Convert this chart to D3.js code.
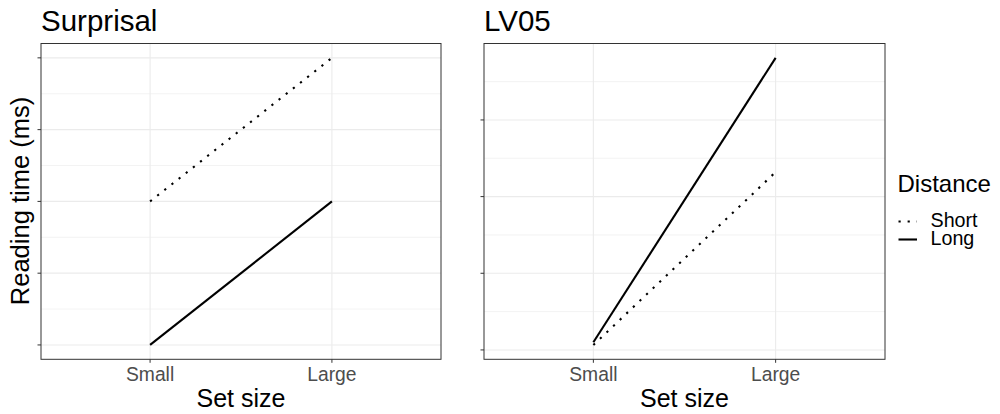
<!DOCTYPE html>
<html><head><meta charset="utf-8">
<script src="https://cdn.jsdelivr.net/npm/d3@7"></script>
<style>body{margin:0;background:#fff}svg{display:block}text{font-family:"Liberation Sans",Arial,sans-serif}</style>
</head><body>
<svg id="c" width="1000" height="414"></svg>
<script>
const categories = ["Small", "Large"];
const panelTitles = ["Surprisal", "LV05"];
const seriesNames = ["Short", "Long"];
// Surprisal panel values (arbitrary units; y tick labels hidden)
const surprisalShort = [2, 4];
const surprisalLong = [0, 2];
const surprisalTicks = [0, 1, 2, 3, 4];
// LV05 panel values
const lv05Short = [0.065, 2.32];
const lv05Long = [0.10, 3.81];
const lv05Ticks = [0, 1, 2, 3];

const panels = [
  {title: panelTitles[0], series: {Short: surprisalShort, Long: surprisalLong}, ticks: surprisalTicks, x0: 41, x1: 441},
  {title: panelTitles[1], series: {Short: lv05Short, Long: lv05Long}, ticks: lv05Ticks, x0: 484, x1: 885}
];
const panelTop = 43.5, panelBottom = 359.3;
const svg = d3.select("#c");
const dash = {Short: "2.2,6.9", Long: null};

panels.forEach((p, pi) => {
  const all = [].concat(p.series.Short, p.series.Long);
  const mn = d3.min(all), mx = d3.max(all), pad = (mx - mn) * 0.05;
  const y = d3.scaleLinear().domain([mn - pad, mx + pad]).range([panelBottom, panelTop]);
  // ggplot discrete expansion: positions at 0.6/2.2 and 1.6/2.2 of the panel width
  const xs = d3.scaleLinear().domain([0.4, 2.6]).range([p.x0, p.x1]);
  const xp = c => xs(categories.indexOf(c) + 1);
  const g = svg.append("g");
  // minor grid
  const minors = [];
  const step = p.ticks[1] - p.ticks[0];
  for (let i = 0; i <= p.ticks.length; i++) {
    const v = p.ticks[0] + (i - 0.5) * step;
    const dom = y.domain();
    if (v > dom[0] && v < dom[1]) minors.push(v);
  }
  g.selectAll(".minor").data(minors).join("line")
    .attr("x1", p.x0).attr("x2", p.x1).attr("y1", d => y(d)).attr("y2", d => y(d))
    .attr("stroke", "#EBEBEB").attr("stroke-width", 0.6);
  g.selectAll(".major").data(p.ticks).join("line")
    .attr("x1", p.x0).attr("x2", p.x1).attr("y1", d => y(d)).attr("y2", d => y(d))
    .attr("stroke", "#EBEBEB").attr("stroke-width", 1.1);
  g.selectAll(".vmajor").data(categories).join("line")
    .attr("x1", d => xp(d)).attr("x2", d => xp(d)).attr("y1", panelTop).attr("y2", panelBottom)
    .attr("stroke", "#EBEBEB").attr("stroke-width", 1.1);
  // lines
  const line = d3.line().x((d, i) => xp(categories[i])).y(d => y(d));
  seriesNames.forEach(s => {
    g.append("path").datum(p.series[s]).attr("d", line).attr("fill", "none")
      .attr("stroke", "#000").attr("stroke-width", 2.1)
      .attr("stroke-dasharray", dash[s]);
  });
  // border
  g.append("rect").attr("x", p.x0).attr("y", panelTop).attr("width", p.x1 - p.x0).attr("height", panelBottom - panelTop)
    .attr("fill", "none").attr("stroke", "#333333").attr("stroke-width", 1);
  // y ticks (no labels)
  g.selectAll(".yt").data(p.ticks).join("line")
    .attr("x1", p.x0 - 3.5).attr("x2", p.x0).attr("y1", d => y(d)).attr("y2", d => y(d))
    .attr("stroke", "#333333").attr("stroke-width", 1);
  // x ticks and labels
  g.selectAll(".xt").data(categories).join("line")
    .attr("x1", d => xp(d)).attr("x2", d => xp(d)).attr("y1", panelBottom).attr("y2", panelBottom + 3.5)
    .attr("stroke", "#333333").attr("stroke-width", 1);
  g.selectAll(".xl").data(categories).join("text")
    .attr("x", d => xp(d)).attr("y", 381).attr("text-anchor", "middle")
    .attr("font-size", 19.3).attr("fill", "#4D4D4D").text(d => d);
  // titles
  g.append("text").attr("x", p.x0).attr("y", 31).attr("font-size", 29.5).attr("fill", "#000").text(p.title);
  g.append("text").attr("x", (p.x0 + p.x1) / 2).attr("y", 406.5).attr("text-anchor", "middle")
    .attr("font-size", 25).attr("fill", "#000").text("Set size");
});
// y axis title
svg.append("text").attr("transform", "translate(29,201) rotate(-90)").attr("text-anchor", "middle")
  .attr("font-size", 25.5).attr("fill", "#000").text("Reading time (ms)");
// legend
const lg = svg.append("g");
lg.append("text").attr("x", 897.5).attr("y", 192).attr("font-size", 24).attr("fill", "#000").text("Distance");
const keyY = [221.5, 239.5];
seriesNames.forEach((s, i) => {
  lg.append("line").attr("x1", 898.5).attr("x2", 917).attr("y1", keyY[i]).attr("y2", keyY[i])
    .attr("stroke", "#000").attr("stroke-width", 2.1).attr("stroke-dasharray", dash[s]);
  lg.append("text").attr("x", 930.5).attr("y", keyY[i] + 5.5 + (i ? 0 : 0)).attr("font-size", 19.7)
    .attr("fill", "#000").text(s);
});
</script>
</body></html>
